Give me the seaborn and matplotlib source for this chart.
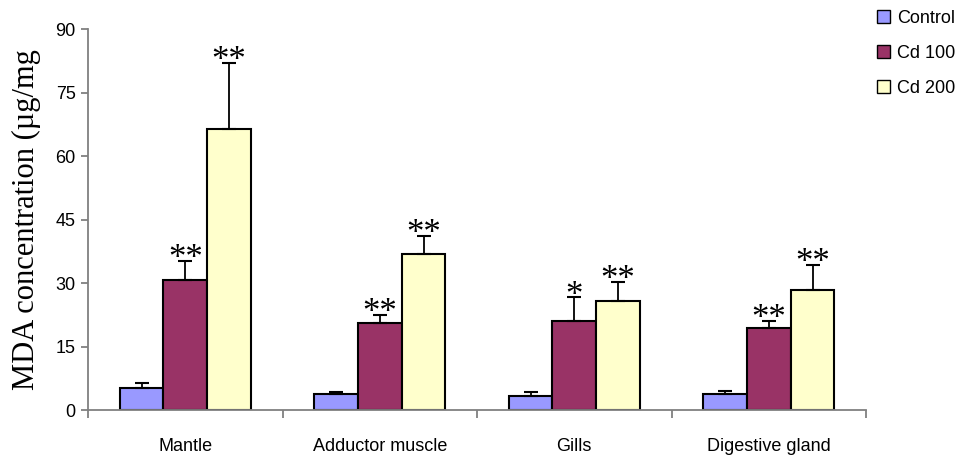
import matplotlib
matplotlib.use("Agg")
import matplotlib.pyplot as plt
import pandas as pd
import seaborn as sns

tissues = ["Mantle", "Adductor muscle", "Gills", "Digestive gland"]
groups = ["Control", "Cd 100", "Cd 200"]

control = [5.1, 3.8, 3.4, 3.8]
cd100 = [30.7, 20.6, 21.1, 19.4]
cd200 = [66.4, 36.8, 25.8, 28.3]

control_err = [1.2, 0.45, 0.85, 0.8]
cd100_err = [4.6, 1.8, 5.5, 1.7]
cd200_err = [15.6, 4.3, 4.5, 6.0]

cd100_sig = ["**", "**", "*", "**"]
cd200_sig = ["**", "**", "**", "**"]

colors = ["#9999FF", "#993366", "#FFFFCC"]

df = pd.DataFrame({
    "tissue": tissues * 3,
    "group": [g for g in groups for _ in tissues],
    "value": control + cd100 + cd200,
})
errs = control_err + cd100_err + cd200_err
sigs = [""] * 4 + cd100_sig + cd200_sig

sns.set_theme(style="white", rc={"text.color": "black",
                                 "axes.labelcolor": "black",
                                 "xtick.color": "black",
                                 "ytick.color": "black"})
plt.rcParams["font.family"] = ["Liberation Sans", "DejaVu Sans"]

fig = plt.figure(figsize=(9.64, 4.57), dpi=100)
ax = fig.add_axes([0.0913, 0.1028, 0.8071, 0.8337])

sns.barplot(data=df, x="tissue", y="value", hue="group", order=tissues,
            hue_order=groups, palette=colors, errorbar=None, width=0.675,
            edgecolor="black", linewidth=1.5, saturation=1, ax=ax)

# bars come out hue by hue, tissue order inside each hue
bars = [p for p in ax.patches if p.get_height() > 0][:12]
for bar, err, sig in zip(bars, errs, sigs):
    xc = bar.get_x() + bar.get_width() / 2
    top = bar.get_height()
    ax.errorbar(xc, top, yerr=[[0], [err]], fmt="none", ecolor="black",
                elinewidth=1.3, capsize=5, capthick=1.5, zorder=3)
    if sig:
        ax.text(xc, top + err - 3.6, sig, ha="center", va="bottom",
                fontsize=25, family=["Liberation Serif", "DejaVu Serif"],
                color="black", zorder=4)

ax.set_ylim(0, 90)
ax.set_yticks(range(0, 91, 15))
ax.set_xlim(-0.5, 3.5)
ax.set_xlabel("")
ax.set_ylabel("MDA concentration (µg/mg", fontsize=22,
              family=["Liberation Serif", "DejaVu Serif"], labelpad=10)

for side in ["top", "right"]:
    ax.spines[side].set_visible(False)
for side in ["left", "bottom"]:
    ax.spines[side].set_color("#808080")
    ax.spines[side].set_linewidth(1.3)

ax.set_xticks([-0.5, 0.5, 1.5, 2.5, 3.5], minor=True)
ax.tick_params(axis="x", which="major", length=0, pad=20, labelsize=13)
ax.tick_params(axis="x", which="minor", length=6, width=1.3,
               color="#808080", direction="out", bottom=True)
ax.tick_params(axis="y", length=5, width=1.3, color="#808080",
               labelcolor="black", direction="out", left=True,
               labelsize=13, pad=4)

handles, labels = ax.get_legend_handles_labels()
ax.legend(handles, labels, loc="upper left", bbox_to_anchor=(1.014, 1.05),
          frameon=False, fontsize=13, handlelength=0.75, handleheight=0.75,
          handletextpad=0.35, labelspacing=1.0, borderaxespad=0,
          borderpad=0)
for h in ax.get_legend().get_patches():
    h.set_linewidth(1.0)

fig.savefig("out.png", dpi=100)
